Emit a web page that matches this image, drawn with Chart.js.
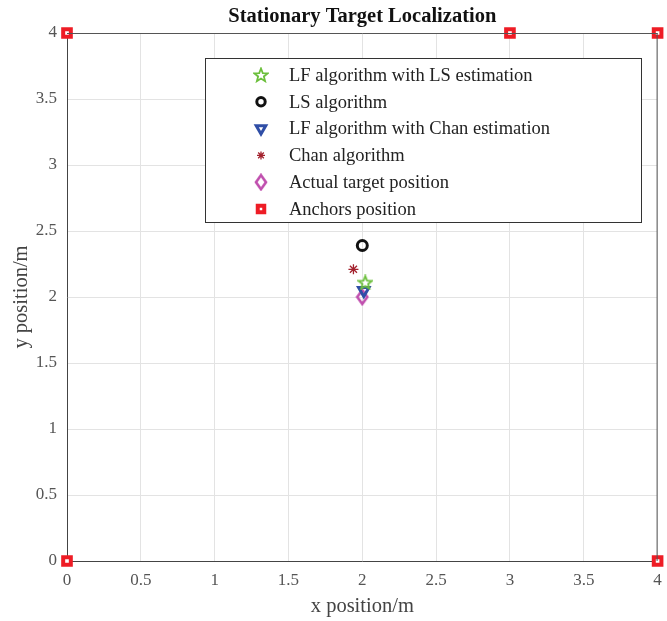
<!DOCTYPE html>
<html>
<head>
<meta charset="utf-8">
<script src="https://cdn.jsdelivr.net/npm/chart.js@4.4.1/dist/chart.umd.min.js"></script>
<style>
  body { margin: 0; background: #fff; }
  #wrap { width: 667px; height: 621px; }
</style>
</head>
<body>
<div id="wrap"><canvas id="myChart" width="667" height="621"></canvas></div>
<script>
// series labels and values
var seriesNames = ['LF algorithm with LS estimation', 'LS algorithm', 'LF algorithm with Chan estimation',
                   'Chan algorithm', 'Actual target position', 'Anchors position'];
var lfLsX = [2.02], lfLsY = [2.11];
var lsX = [2.0], lsY = [2.39];
var lfChanX = [2.01], lfChanY = [2.05];
var chanX = [1.94], chanY = [2.21];
var actualX = [2.0], actualY = [2.0];
var anchorX = [0, 0, 3, 4, 4], anchorY = [0, 4, 4, 4, 0];
var tickValues = [0, 0.5, 1, 1.5, 2, 2.5, 3, 3.5, 4];

function toPoints(xs, ys) {
    var pts = [];
    for (var i = 0; i < xs.length; i++) pts.push({x: xs[i], y: ys[i]});
    return pts;
}

// pentagram marker
function makePentagram(color) {
    var c = document.createElement('canvas');
    c.width = 16; c.height = 16;
    var g = c.getContext('2d');
    g.strokeStyle = color; g.lineWidth = 1.8;
    g.beginPath();
    for (var i = 0; i < 10; i++) {
        var r = (i % 2 === 0) ? 7 : 3;
        var a = -Math.PI / 2 + i * Math.PI / 5;
        var px = 8 + r * Math.cos(a), py = 8.5 + r * Math.sin(a);
        if (i === 0) g.moveTo(px, py); else g.lineTo(px, py);
    }
    g.closePath(); g.stroke();
    return c;
}
// tall diamond marker
function makeDiamond(color) {
    var c = document.createElement('canvas');
    c.width = 14; c.height = 18;
    var g = c.getContext('2d');
    g.strokeStyle = color; g.lineWidth = 2.6;
    g.beginPath();
    g.moveTo(7, 2); g.lineTo(12, 9); g.lineTo(7, 16); g.lineTo(2, 9);
    g.closePath(); g.stroke();
    return c;
}

var fontFam = '"Liberation Serif", "Times New Roman", serif';

var datasets = [
    {label: seriesNames[0], data: toPoints(lfLsX, lfLsY), pointStyle: makePentagram('#6cbf3c'),
     pointRadius: 7, borderColor: '#6cbf3c', backgroundColor: '#6cbf3c', clip: false},
    {label: seriesNames[1], data: toPoints(lsX, lsY), pointStyle: 'circle', pointRadius: 5,
     borderWidth: 3, borderColor: '#111111', backgroundColor: 'rgba(0,0,0,0)', clip: false},
    {label: seriesNames[2], data: toPoints(lfChanX, lfChanY), pointStyle: 'triangle', rotation: 180,
     pointRadius: 6, borderWidth: 3, borderColor: '#2f4ea6', backgroundColor: 'rgba(0,0,0,0)', clip: false},
    {label: seriesNames[3], data: toPoints(chanX, chanY), pointStyle: 'star', pointRadius: 5,
     borderWidth: 1.3, borderColor: '#a3222e', backgroundColor: '#a3222e', clip: false},
    {label: seriesNames[4], data: toPoints(actualX, actualY), pointStyle: makeDiamond('#c04fae'),
     pointRadius: 8, borderColor: '#c04fae', backgroundColor: '#c04fae', clip: false},
    {label: seriesNames[5], data: toPoints(anchorX, anchorY), pointStyle: 'rect', pointRadius: 5.4,
     borderWidth: 4, borderColor: '#ee1c25', backgroundColor: '#ffffff', clip: false}
];

// legend marker sizes (a bit smaller than on the plot)
var legendRadius = [7, 4.2, 5.5, 4, 8, 4.6];

// frame, title, axis labels and the boxed legend
var decorations = {
    id: 'decorations',
    afterDatasetsDraw: function(chart) {
        var ctx = chart.ctx, a = chart.chartArea;
        ctx.save();
        ctx.strokeStyle = '#555';
        ctx.lineWidth = 1;
        ctx.beginPath();
        ctx.moveTo(a.left, a.top + 0.5); ctx.lineTo(a.right, a.top + 0.5);
        ctx.moveTo(a.right - 0.5, a.top); ctx.lineTo(a.right - 0.5, a.bottom);
        ctx.stroke();

        // legend box
        var lx = 205, ly = 58, lw = 436, lh = 164;
        ctx.fillStyle = '#fff';
        ctx.fillRect(lx, ly, lw, lh);
        ctx.strokeStyle = '#333';
        ctx.strokeRect(lx + 0.5, ly + 0.5, lw, lh);
        ctx.font = '18.5px ' + fontFam;
        ctx.textBaseline = 'middle';
        ctx.textAlign = 'left';
        chart.data.datasets.forEach(function(ds, i) {
            var yy = 75 + i * 26.8;
            ctx.save();
            ctx.strokeStyle = ds.borderColor;
            ctx.fillStyle = ds.backgroundColor;
            ctx.lineWidth = ds.borderWidth || 1;
            Chart.helpers.drawPoint(ctx, {
                pointStyle: ds.pointStyle, rotation: ds.rotation || 0, radius: legendRadius[i],
                borderWidth: ds.borderWidth || 1
            }, 261, yy);
            ctx.restore();
            ctx.fillStyle = '#222';
            ctx.fillText(ds.label, 289, yy + 1);
        });
        ctx.restore();
    },
    afterDraw: function(chart) {
        var ctx = chart.ctx, a = chart.chartArea;
        ctx.save();
        ctx.fillStyle = '#111';
        ctx.textAlign = 'center';
        ctx.textBaseline = 'middle';
        ctx.font = 'bold 20.5px ' + fontFam;
        ctx.fillText('Stationary Target Localization', (a.left + a.right) / 2, 17);
        ctx.fillStyle = '#444';
        ctx.font = '20.5px ' + fontFam;
        ctx.fillText('x position/m', (a.left + a.right) / 2, 607);
        ctx.translate(22, (a.top + a.bottom) / 2);
        ctx.rotate(-Math.PI / 2);
        ctx.fillText('y position/m', 0, 0);
        ctx.restore();
    }
};

var ctx = document.getElementById('myChart').getContext('2d');
var chart = new Chart(ctx, {
    type: 'scatter',
    data: { datasets: datasets },
    options: {
        responsive: false,
        animation: false,
        layout: { padding: { left: 0, right: 6, top: 33, bottom: 0 } },
        plugins: { legend: { display: false }, title: { display: false }, tooltip: { enabled: false } },
        scales: {
            x: {
                type: 'linear', min: 0, max: 4,
                afterBuildTicks: function(s) { s.ticks = tickValues.map(function(v) { return {value: v}; }); },
                afterFit: function(s) { s.height = 60; s.paddingLeft = 0; s.paddingRight = 0; },
                grid: { color: '#e3e3e3', drawTicks: false },
                border: { color: '#444' },
                ticks: { padding: 9, color: '#555', font: { family: fontFam, size: 17 }, maxRotation: 0,
                         callback: function(v) { return String(v); } }
            },
            y: {
                type: 'linear', min: 0, max: 4,
                afterBuildTicks: function(s) { s.ticks = tickValues.map(function(v) { return {value: v}; }); },
                afterFit: function(s) { s.width = 67; s.paddingTop = 0; s.paddingBottom = 0; },
                grid: { color: '#e3e3e3', drawTicks: false },
                border: { color: '#444' },
                ticks: { padding: 10, color: '#555', font: { family: fontFam, size: 17 },
                         callback: function(v) { return String(v); } }
            }
        }
    },
    plugins: [decorations]
});
</script>
</body>
</html>
